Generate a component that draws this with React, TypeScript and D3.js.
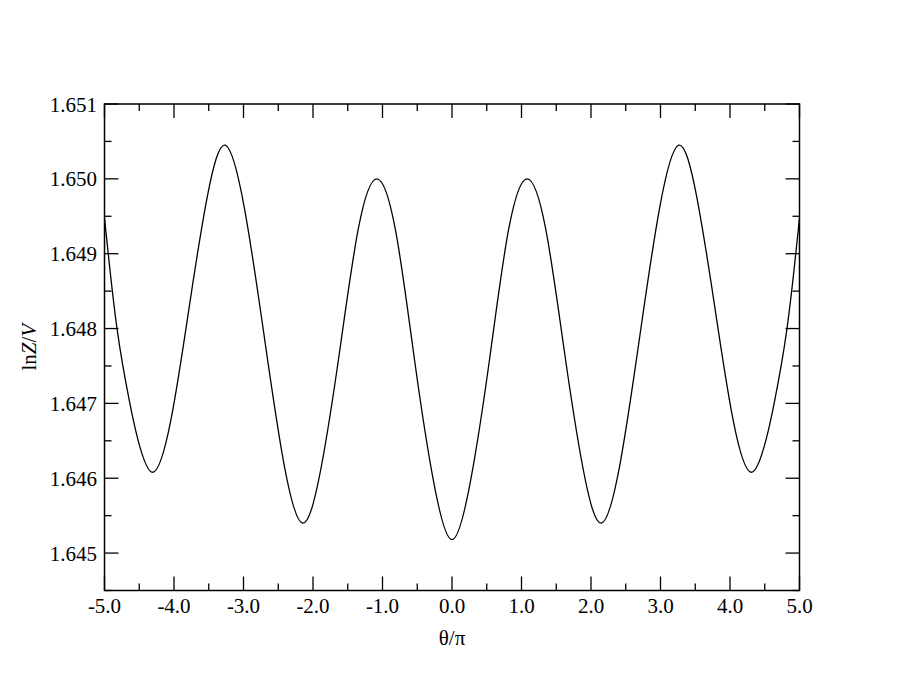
import React from "react";
import * as d3 from "d3";

// θ/π values (extrema and points between them)
const theta: number[] = [
  -5.0, -4.82, -4.635, -4.52, -4.305,
  -4.0445, -3.784, -3.5235, -3.263,
  -2.985, -2.707, -2.429, -2.151,
  -1.8835, -1.616, -1.3485, -1.081,
  -0.81, -0.5405, -0.27, 0.0,
  0.27, 0.5405, 0.81, 1.081,
  1.3485, 1.616, 1.8835, 2.151,
  2.429, 2.707, 2.985, 3.263,
  3.5235, 3.784, 4.0445, 4.305,
  4.52, 4.635, 4.82, 5.0,
];

// lnZ/V values
const lnZV: number[] = [
  1.64948, 1.648, 1.647, 1.64652, 1.64608,
  1.64678, 1.64827, 1.64975, 1.65045,
  1.6496, 1.64793, 1.64625, 1.6454,
  1.64614, 1.6477, 1.64933, 1.65,
  1.6493, 1.64759, 1.64598, 1.64518,
  1.64598, 1.64759, 1.6493, 1.65,
  1.64933, 1.6477, 1.64614, 1.6454,
  1.64625, 1.64793, 1.6496, 1.65045,
  1.64975, 1.64827, 1.64678, 1.64608,
  1.64652, 1.647, 1.648, 1.64948,
];

const xMajorTicks: number[] = [-5, -4, -3, -2, -1, 0, 1, 2, 3, 4, 5];
const xMinorTicks: number[] = [-4.5, -3.5, -2.5, -1.5, -0.5, 0.5, 1.5, 2.5, 3.5, 4.5];
const yMajorTicks: number[] = [1.645, 1.646, 1.647, 1.648, 1.649, 1.65, 1.651];
const yMinorTicks: number[] = [1.6445, 1.6455, 1.6465, 1.6475, 1.6485, 1.6495, 1.6505];

const xTitle = "θ/π";

export default function App() {
  const W = 900;
  const H = 695;
  const left = 104.5;
  const right = 799.5;
  const top = 104;
  const bottom = 590.5;

  const x = d3.scaleLinear().domain([-5, 5]).range([left, right]);
  const y = d3.scaleLinear().domain([1.6445, 1.651]).range([bottom, top]);

  const pts = theta.map((t, i) => [t, lnZV[i]] as [number, number]);
  const line = d3
    .line<[number, number]>()
    .x((d) => x(d[0]))
    .y((d) => y(d[1]))
    .curve(d3.curveNatural);

  const major = 14;
  const minor = 7;
  const font = "'Liberation Serif', 'Times New Roman', serif";
  const fs = 21;

  return (
    <svg
      width={W}
      height={H}
      style={{ position: "absolute", left: 0, top: 0, background: "#fff" }}
      fontFamily={font}
    >
      <rect x={0} y={0} width={W} height={H} fill="#fff" />
      <defs>
        <clipPath id="plotClip">
          <rect x={left} y={top} width={right - left} height={bottom - top} />
        </clipPath>
      </defs>
      <path
        d={line(pts) || ""}
        fill="none"
        stroke="#000"
        strokeWidth={1.3}
        clipPath="url(#plotClip)"
      />
      {/* ticks */}
      <g stroke="#000" strokeWidth={1.3}>
        {xMajorTicks.map((t) => (
          <g key={"xm" + t}>
            <line x1={x(t)} x2={x(t)} y1={bottom} y2={bottom - major} />
            <line x1={x(t)} x2={x(t)} y1={top} y2={top + major} />
          </g>
        ))}
        {xMinorTicks.map((t) => (
          <g key={"xn" + t}>
            <line x1={x(t)} x2={x(t)} y1={bottom} y2={bottom - minor} />
            <line x1={x(t)} x2={x(t)} y1={top} y2={top + minor} />
          </g>
        ))}
        {yMajorTicks.map((t) => (
          <g key={"ym" + t}>
            <line x1={left} x2={left + major} y1={y(t)} y2={y(t)} />
            <line x1={right} x2={right - major} y1={y(t)} y2={y(t)} />
          </g>
        ))}
        {yMinorTicks.map((t) => (
          <g key={"yn" + t}>
            <line x1={left} x2={left + minor} y1={y(t)} y2={y(t)} />
            <line x1={right} x2={right - minor} y1={y(t)} y2={y(t)} />
          </g>
        ))}
      </g>
      <rect
        x={left}
        y={top}
        width={right - left}
        height={bottom - top}
        fill="none"
        stroke="#000"
        strokeWidth={1.5}
      />
      {/* tick labels */}
      {xMajorTicks.map((t) => (
        <text key={"xl" + t} x={x(t)} y={613} textAnchor="middle" fontSize={fs} fill="#000">
          {t.toFixed(1)}
        </text>
      ))}
      {yMajorTicks.map((t) => (
        <text key={"yl" + t} x={97} y={y(t) + 7.5} textAnchor="end" fontSize={fs} fill="#000">
          {t.toFixed(3)}
        </text>
      ))}
      <text x={(left + right) / 2} y={645} textAnchor="middle" fontSize={fs} fill="#000">
        {xTitle}
      </text>
      <text
        transform={`translate(36,${(top + bottom) / 2}) rotate(-90)`}
        textAnchor="middle"
        fontSize={fs}
        fill="#000"
      >
        ln<tspan fontStyle="italic">Z</tspan>/<tspan fontStyle="italic">V</tspan>
      </text>
    </svg>
  );
}
